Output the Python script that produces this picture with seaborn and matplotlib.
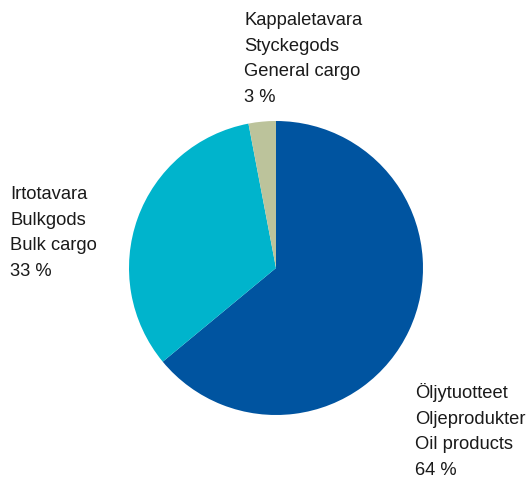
import matplotlib
matplotlib.use("Agg")
import matplotlib.pyplot as plt
import seaborn as sns

sns.set_theme(style="white")
plt.rcParams['font.family'] = ['Liberation Sans', 'DejaVu Sans']

categories = ["Öljytuotteet\nOljeprodukter\nOil products",
              "Irtotavara\nBulkgods\nBulk cargo",
              "Kappaletavara\nStyckegods\nGeneral cargo"]
values = [64, 33, 3]
colors = ["#0054a0", "#00b4cc", "#bcc39b"]

W, H = 529, 478
fig = plt.figure(figsize=(W / 100, H / 100), dpi=100)
cx, cy, r = 276, 268, 147
ax = fig.add_axes([(cx - r) / W, (H - cy - r) / H, 2 * r / W, 2 * r / H])
ax.pie(values, colors=colors, startangle=90, counterclock=False,
       wedgeprops=dict(linewidth=0))
ax.set_xlim(-1, 1)
ax.set_ylim(-1, 1)
ax.set_aspect('equal')
ax.axis('off')

label_pos = [(415, 383), (10, 186), (244, 12)]
for cat, val, (px, py) in zip(categories, values, label_pos):
    fig.text(px / W, 1 - py / H, f"{cat}\n{val} %", ha='left', va='top',
             fontsize=13.2, color='#1a1a1a', linespacing=1.66)

fig.savefig("out.png", dpi=100)
